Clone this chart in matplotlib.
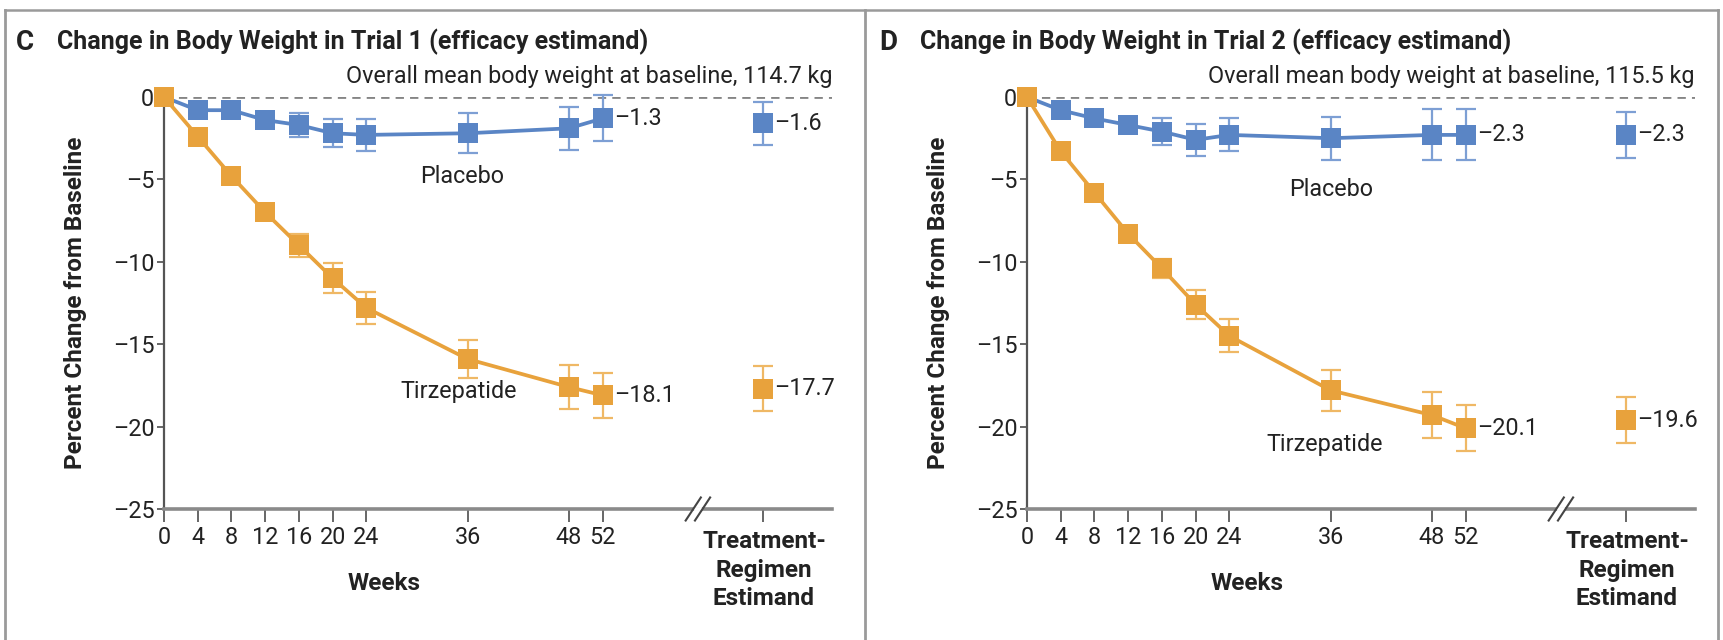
import matplotlib
matplotlib.use("Agg")
import matplotlib.pyplot as plt
from matplotlib.lines import Line2D

plt.rcParams['font.family'] = ['Roboto', 'DejaVu Sans']

# ---------------- data ----------------
weeks = [0, 4, 8, 12, 16, 20, 24, 36, 48, 52]
week_labels = ["0", "4", "8", "12", "16", "20", "24", "36", "48", "52"]
y_ticks = [0, -5, -10, -15, -20, -25]
y_tick_labels = ["0", "\u20135", "\u201310", "\u201315", "\u201320", "\u201325"]

# Trial 1 (panel C)
c_placebo = [0, -0.8, -0.8, -1.4, -1.7, -2.2, -2.3, -2.2, -1.9, -1.3]
c_placebo_err = [0, 0.35, 0.35, 0.45, 0.7, 0.85, 0.95, 1.2, 1.3, 1.4]
c_tirz = [0, -2.4, -4.8, -7.0, -9.0, -11.0, -12.8, -15.9, -17.6, -18.1]
c_tirz_err = [0, 0.3, 0.35, 0.45, 0.7, 0.9, 0.95, 1.15, 1.35, 1.35]
c_trt_placebo, c_trt_placebo_err = -1.6, 1.3
c_trt_tirz, c_trt_tirz_err = -17.7, 1.35
c_baseline = "Overall mean body weight at baseline, 114.7 kg"

# Trial 2 (panel D)
d_placebo = [0, -0.8, -1.3, -1.7, -2.1, -2.6, -2.3, -2.5, -2.3, -2.3]
d_placebo_err = [0, 0.35, 0.35, 0.45, 0.8, 0.95, 1.0, 1.3, 1.55, 1.55]
d_tirz = [0, -3.3, -5.8, -8.3, -10.4, -12.6, -14.5, -17.8, -19.3, -20.1]
d_tirz_err = [0, 0.3, 0.35, 0.45, 0.6, 0.9, 1.0, 1.25, 1.4, 1.4]
d_trt_placebo, d_trt_placebo_err = -2.3, 1.4
d_trt_tirz, d_trt_tirz_err = -19.6, 1.4
d_baseline = "Overall mean body weight at baseline, 115.5 kg"

TRT_X = 71
BREAK_X = 63.3
XMAX = 79.2

BLUE = "#5a85c5"
BLUE_E = "#7d9fd4"
ORANGE = "#e8a23c"
ORANGE_E = "#efb865"
TXT = "#222222"

FS = 16.8      # regular text
FSB = 17.5     # bold axis labels

W, H = 1723, 640
fig = plt.figure(figsize=(W / 100, H / 100), dpi=100)


def fx(px):
    return px / W


def fy(py):
    return 1 - py / H


def en(v):
    return ("\u2013" if v < 0 else "") + f"{abs(v):.1f}"


def panel(left_px, letter, title, baseline, pl, ple, tz, tze, tp, tpe, tt, tte,
          placebo_lbl, tirz_lbl):
    right_px = left_px + 668
    top_px, bot_px = 97, 509
    ax = fig.add_axes([fx(left_px), fy(bot_px), fx(right_px - left_px),
                       (bot_px - top_px) / H])
    ax.set_xlim(0, XMAX)
    ax.set_ylim(-25, 0)
    for s in ["top", "right"]:
        ax.spines[s].set_visible(False)
    ax.spines["left"].set_color("#555555")
    ax.spines["left"].set_linewidth(1.6)
    ax.spines["bottom"].set_color("#8a8a8a")
    ax.spines["bottom"].set_linewidth(2.6)
    ax.set_xticks(weeks + [TRT_X])
    ax.set_xticklabels(week_labels + [""], fontsize=FS, color=TXT)
    ax.set_yticks(y_ticks)
    ax.set_yticklabels(y_tick_labels, fontsize=FS, color=TXT)
    ax.tick_params(axis="x", length=9, width=1.4, color="#666666", pad=3)
    ax.tick_params(axis="y", length=5, width=1.4, color="#666666", pad=2)

    # baseline dashed line
    ax.axhline(0, color="#858585", lw=2.0, ls=(0, (3, 2.2)), zorder=1)

    # axis break marks
    for dx in (-0.55, 0.55):
        ax.plot([BREAK_X + dx - 0.9, BREAK_X + dx + 0.9], [-25.7, -24.3],
                color="#444444", lw=1.5, clip_on=False, zorder=6)
    ax.plot([BREAK_X - 0.25, BREAK_X + 0.25], [-25.0, -25.0], color="white",
            lw=2.8, clip_on=False, zorder=5)

    for vals, errs, c, ce, tv, te in ((pl, ple, BLUE, BLUE_E, tp, tpe),
                                      (tz, tze, ORANGE, ORANGE_E, tt, tte)):
        ax.errorbar(weeks, vals, yerr=errs, fmt="none", ecolor=ce, elinewidth=1.6,
                    capsize=7.5, capthick=1.6, clip_on=False, zorder=3)
        ax.plot(weeks, vals, color=c, lw=2.7, marker="s", markersize=14,
                markeredgewidth=0, clip_on=False, zorder=4)
        ax.errorbar([TRT_X], [tv], yerr=[te], fmt="none", ecolor=ce,
                    elinewidth=1.6, capsize=7.5, capthick=1.6, clip_on=False, zorder=3)
        ax.plot([TRT_X], [tv], color=c, marker="s", markersize=14,
                markeredgewidth=0, clip_on=False, zorder=4)
        ax.annotate(en(tv), (TRT_X, tv), xytext=(8, 0), textcoords="offset points",
                    va="center", ha="left", fontsize=FS, color=TXT)
    # end-point labels at week 52
    ax.annotate(en(pl[-1]), (weeks[-1], pl[-1]), xytext=(8, 0),
                textcoords="offset points", va="center", ha="left", fontsize=FS,
                color=TXT)
    ax.annotate(en(tz[-1]), (weeks[-1], tz[-1]), xytext=(8, 0),
                textcoords="offset points", va="center", ha="left", fontsize=FS,
                color=TXT)

    ax.text(placebo_lbl[0], placebo_lbl[1], "Placebo", ha="center", va="center",
            fontsize=FS, color=TXT)
    ax.text(tirz_lbl[0], tirz_lbl[1], "Tirzepatide", ha="center", va="center",
            fontsize=FS, color=TXT)

    ax.text(XMAX, 0.55, baseline, ha="right", va="bottom", fontsize=FS, color=TXT)

    # x-axis label and treatment label
    fig.text(fx(left_px + 26 * 8.45), fy(584), "Weeks", ha="center", va="center",
             fontsize=FSB, fontweight="bold", color=TXT)
    fig.text(fx(left_px + TRT_X * 8.45), fy(570), "Treatment-\nRegimen\nEstimand",
             ha="center", va="center", fontsize=FSB, fontweight="bold", color=TXT,
             linespacing=1.3)
    fig.text(fx(left_px - 88), fy(303), "Percent Change from Baseline", rotation=90,
             ha="center", va="center", fontsize=FSB, fontweight="bold", color=TXT)

    # panel title
    fig.text(fx(left_px - 148), fy(42), letter, ha="left", va="center",
             fontsize=20, fontweight="bold", color=TXT)
    fig.text(fx(left_px - 107), fy(42), title, ha="left", va="center",
             fontsize=18, fontweight="bold", color=TXT)
    return ax


panel(164, "C", "Change in Body Weight in Trial 1 (efficacy estimand)", c_baseline,
      c_placebo, c_placebo_err, c_tirz, c_tirz_err,
      c_trt_placebo, c_trt_placebo_err, c_trt_tirz, c_trt_tirz_err,
      (35.4, -4.8), (34.9, -17.9))
panel(1027, "D", "Change in Body Weight in Trial 2 (efficacy estimand)", d_baseline,
      d_placebo, d_placebo_err, d_tirz, d_tirz_err,
      d_trt_placebo, d_trt_placebo_err, d_trt_tirz, d_trt_tirz_err,
      (36.0, -5.6), (35.3, -21.1))

# panel frames
frame_c = "#9a9a9a"
fig.add_artist(Line2D([fx(5), fx(1718)], [fy(10), fy(10)], color=frame_c, lw=1.8))
for xp in (5, 865, 1718):
    fig.add_artist(Line2D([fx(xp), fx(xp)], [fy(10), 0], color=frame_c, lw=2.0))

fig.savefig("out.png", dpi=100, facecolor="white")
